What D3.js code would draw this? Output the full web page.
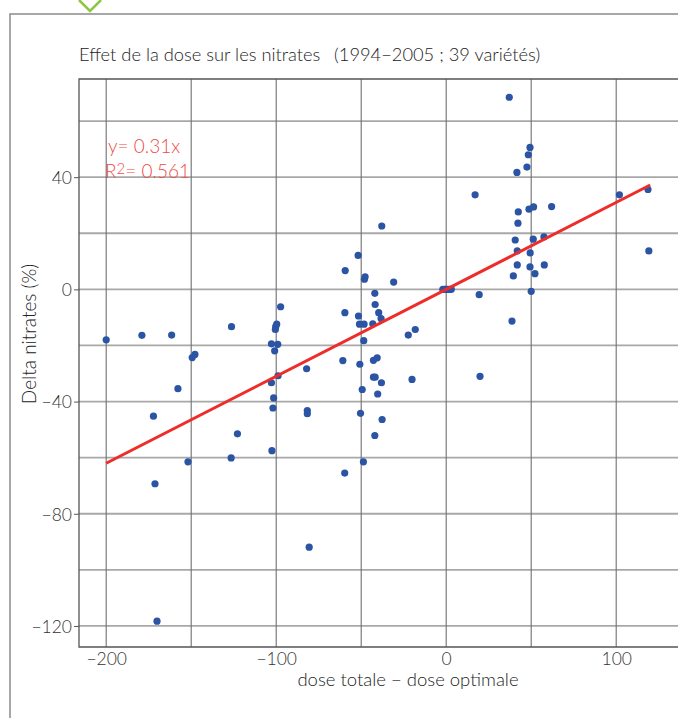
<!DOCTYPE html>
<html>
<head>
<meta charset="utf-8">
<script src="https://cdn.jsdelivr.net/npm/d3@7"></script>
<style>
  html, body { margin: 0; padding: 0; background: #fff; }
  svg { display: block; }
  text { font-family: Lato, "Open Sans", sans-serif; font-weight: 300; }
</style>
</head>
<body>
<script>
// Écart de dose azotée (dose totale − dose optimale) et variation des nitrates (%)
const doseGap = [
  -200, -179, -161.5, -126.3, -97.4, -99.7, -100.3, -100.5, -102.8, -99.1, -100.9,
  -149.4, -147.8, -157.8, -98.9, -102.8, -101.5, -101.9, -172.2, -122.8, -102.5,
  -126.5, -151.9, -171.3, -170.1, -80.6, -82.1, -81.7, -81.7,
  -59.6, -51.6, -51, -48.3, -43.2, -48.5, -42, -41.8, -39.7, -38.3, -60.8, -50.8,
  -42.8, -40.6, -42.8, -41.8, -38.1, -49.4, -40.3, -50.4, -37.7, -42, -48.7, -59.7,
  -37.9, -51.8, -59.4, -47.7, -48.1, -30.9, -18.2, -22.3, -20.1,
  -2, -1, 0, 1, 2, 3,
  19.4, 19.9, 37.1, 49.3, 48.3, 47.5, 41.6, 17, 42.4, 48.7, 51.4, 62, 42.2, 40.6,
  51.2, 57.5, 41.8, 49.4, 41.8, 49.3, 57.7, 39.5, 52.2, 50, 38.7, 101.9, 118.7, 119.2
];
const deltaNitrates = [
  -18, -16.4, -16.3, -13.3, -6.2, -12.4, -13.3, -14.3, -19.4, -19.6, -21.9,
  -24.3, -23.2, -35.4, -30.8, -33.3, -38.7, -42.3, -45.2, -51.5, -57.5,
  -60.1, -61.5, -69.3, -118.3, -91.9, -28.3, -43.2, -44.3,
  -8.3, -9.5, -12.4, -12.4, -12.3, -18.3, -1.4, -5.4, -8.3, -10.4, -25.4, -26.7,
  -25.3, -24.4, -31.3, -31.3, -33.3, -35.7, -37.3, -44.2, -46.4, -52.1, -61.5, -65.5,
  22.6, 12.1, 6.7, 4.5, 3.6, 2.6, -14.3, -16.3, -32.1,
  0, 0, 0, 0, 0, 0,
  -1.9, -31, 68.5, 50.6, 48, 43.6, 41.7, 33.7, 27.6, 28.6, 29.4, 29.5, 23.6, 17.6,
  17.9, 18.7, 13.7, 13, 8.7, 8, 8.7, 4.8, 5.6, -0.7, -11.3, 33.7, 35.6, 13.7
];

// Ajustement linéaire passant par l'origine
const slope = 0.31;
const r2 = 0.561;
const fitRange = [-200, 120];

const xTicks = [-200, -100, 0, 100];
const xGrid = [-200, -150, -100, -50, 0, 50, 100, 150];
const yTicks = [-120, -80, -40, 0, 40];
const yGrid = [-120, -100, -80, -60, -40, -20, 0, 20, 40, 60];

const titleText = "Effet de la dose sur les nitrates\u2003(1994\u22122005 ; 39 variétés)";
const xLabel = "dose totale \u2212 dose optimale";
const yLabel = "Delta nitrates (%)";

const W = 678, H = 718;
const mLeft = 79, mTop = 79, mBottom = 647, mRight = 678;

const svg = d3.select("body").append("svg").attr("width", W).attr("height", H);

// Cadre de la page et chevron vert
svg.append("path")
  .attr("d", `M10,${H} L10,14 L${W},14`)
  .attr("fill", "none").attr("stroke", "#8a8a8a").attr("stroke-width", 1.5);
svg.append("path")
  .attr("d", "M79,0 L90,11 L101,0")
  .attr("fill", "none").attr("stroke", "#8dc63f").attr("stroke-width", 2.5);

const x = d3.scaleLinear().domain([-216, 136]).range([mLeft, mLeft + 352 * 1.7]);
const y = d3.scaleLinear().domain([-127.5, 75]).range([mBottom, mTop]);

svg.append("defs").append("clipPath").attr("id", "plot")
  .append("rect").attr("x", mLeft).attr("y", mTop).attr("width", mRight - mLeft).attr("height", mBottom - mTop);

const plot = svg.append("g").attr("clip-path", "url(#plot)");

// Grille
plot.selectAll("line.hg").data(yGrid).join("line")
  .attr("x1", mLeft).attr("x2", mRight)
  .attr("y1", d => y(d)).attr("y2", d => y(d))
  .attr("stroke", "#a8a8a8").attr("stroke-width", 1.8);
plot.selectAll("line.vg").data(xGrid).join("line")
  .attr("y1", mTop).attr("y2", mBottom)
  .attr("x1", d => x(d)).attr("x2", d => x(d))
  .attr("stroke", "#707070").attr("stroke-width", 1.1);

// Bordures du graphique
svg.append("path")
  .attr("d", `M${mRight},${mTop} L${mLeft},${mTop} L${mLeft},${mBottom} L${mRight},${mBottom}`)
  .attr("fill", "none").attr("stroke", "#555").attr("stroke-width", 1.3);

// Axes
const fmt = d => d < 0 ? "\u2212" + Math.abs(d) : String(d);
const gy = svg.append("g").attr("transform", `translate(${mLeft},0)`)
  .call(d3.axisLeft(y).tickValues(yTicks).tickSize(5).tickFormat(fmt));
gy.select(".domain").remove();
gy.selectAll(".tick line").attr("stroke", "#555");
gy.selectAll(".tick text").attr("x", -7).attr("dy", "0.36em")
  .attr("font-size", 17.5).attr("fill", "#333").style("font-family", "Lato, sans-serif").style("font-weight", 300);

const gx = svg.append("g").attr("transform", `translate(0,${mBottom})`)
  .call(d3.axisBottom(x).tickValues(xTicks).tickSize(0).tickFormat(fmt));
gx.select(".domain").remove();
gx.selectAll(".tick text").attr("y", 6).attr("dy", "0.71em")
  .attr("font-size", 17.5).attr("fill", "#333").style("font-family", "Lato, sans-serif").style("font-weight", 300);

// Points
const pts = doseGap.map((d, i) => ({ x: d, y: deltaNitrates[i] }));
plot.selectAll("circle").data(pts).join("circle")
  .attr("cx", d => x(d.x)).attr("cy", d => y(d.y)).attr("r", 3.6)
  .attr("fill", "#2b54a4");

// Droite de régression
plot.append("line")
  .attr("x1", x(fitRange[0])).attr("y1", y(slope * fitRange[0]))
  .attr("x2", x(fitRange[1])).attr("y2", y(slope * fitRange[1]))
  .attr("stroke", "#ee2d2a").attr("stroke-width", 3);

// Équation
const eq = svg.append("g").attr("fill", "#f04a45").attr("font-size", 19);
eq.append("text").attr("x", 108).attr("y", 153).text(`y= ${slope}x`);
const r2t = eq.append("text").attr("x", 105).attr("y", 178);
r2t.append("tspan").text("R");
r2t.append("tspan").attr("dy", -4).attr("font-size", 15).text("2");
r2t.append("tspan").attr("dy", 4).text(`= ${r2}`);

// Titres
svg.append("text").attr("x", 79).attr("y", 61).attr("font-size", 18.3).attr("fill", "#222")
  .style("white-space", "pre").text(titleText);
svg.append("text").attr("x", 408).attr("y", 686).attr("text-anchor", "middle")
  .attr("font-size", 18.5).attr("fill", "#222").text(xLabel);
svg.append("text").attr("transform", "translate(36,334) rotate(-90)").attr("text-anchor", "middle")
  .attr("font-size", 19).attr("fill", "#222").text(yLabel);
</script>
</body>
</html>
